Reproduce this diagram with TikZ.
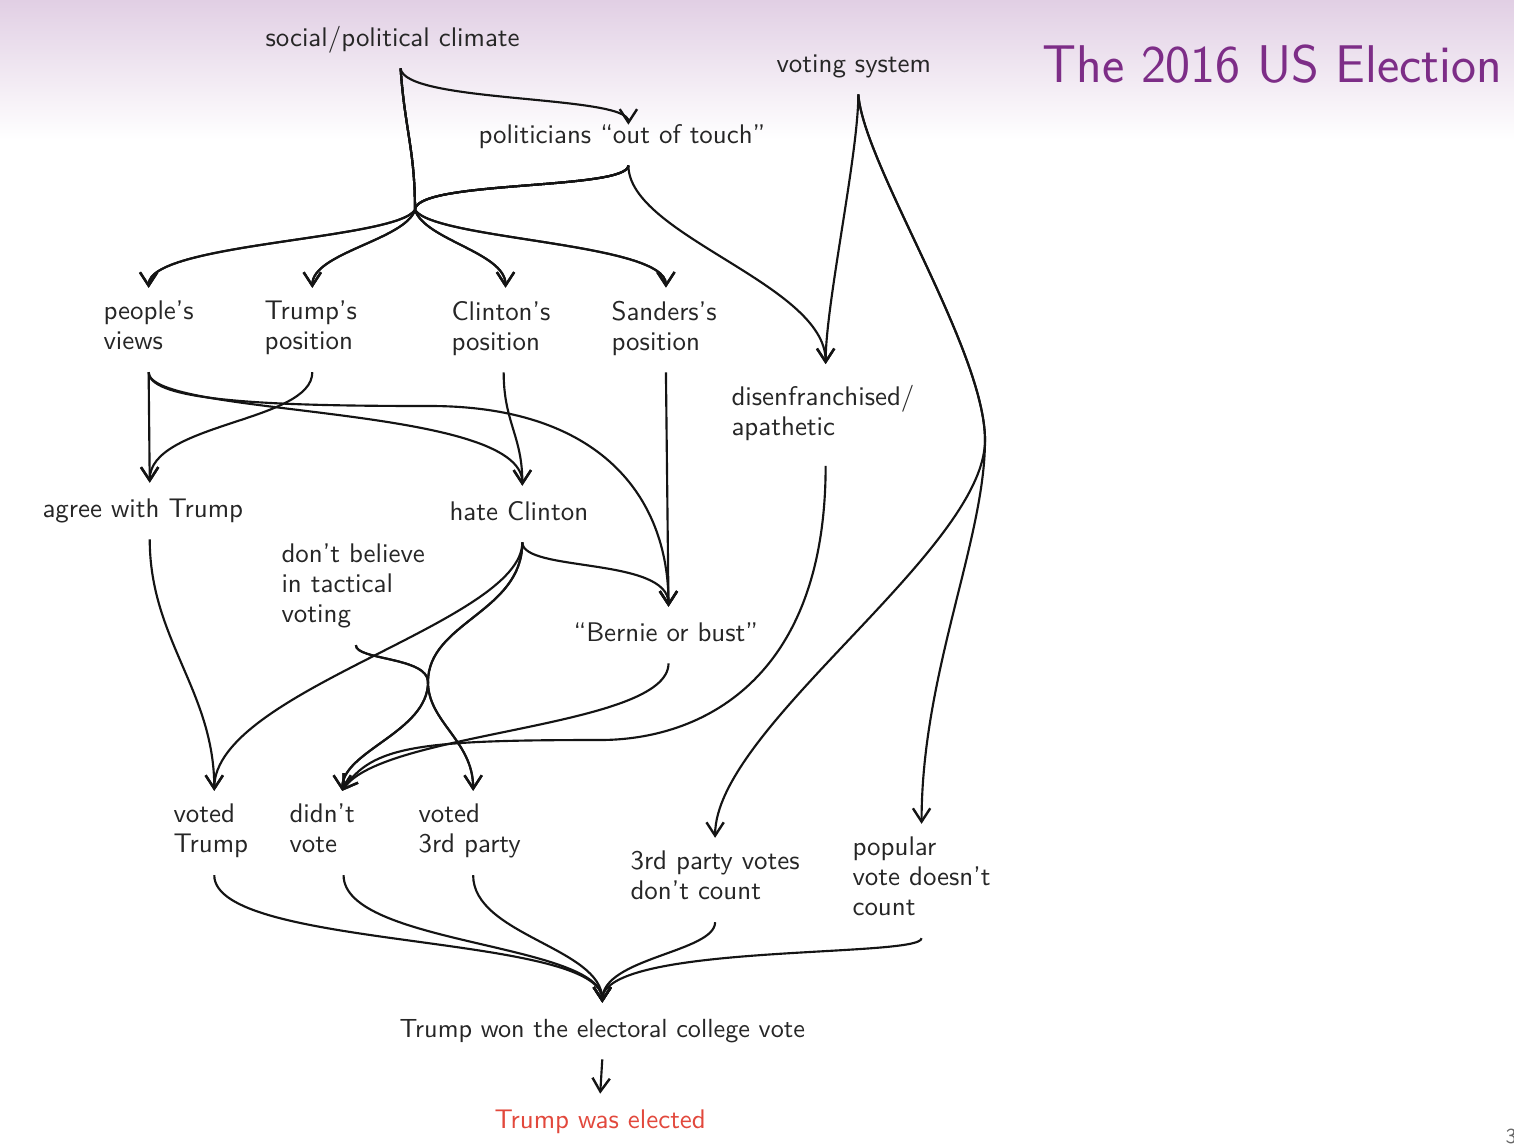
\documentclass[tikz,border=0pt]{standalone}
\usetikzlibrary{arrows.meta}
\definecolor{titlepurple}{RGB}{125,45,135}
\definecolor{bgtop}{RGB}{225,207,228}
\definecolor{alertred}{RGB}{226,72,60}
\definecolor{txt}{RGB}{38,38,38}
\begin{document}
\begin{tikzpicture}[x=0.375pt,y=-0.375pt,
  lbl/.style={font=\sffamily\fontsize{10.1}{11.25}\selectfont, text=txt, align=left, anchor=west,
    inner sep=0pt, outer ysep=5pt, execute at begin node=\strut, execute at end node=\strut},
  link/.style={draw=black!92, line width=0.8pt, -{Straight Barb[length=5pt,width=6.5pt,line width=0.9pt]}}]

\useasboundingbox (0,0) rectangle (1514,1144);
\fill[white] (0,0) rectangle (1514,1144);
\shade[top color=bgtop, bottom color=white] (0,0) rectangle (1514,140);

% title
\node[font=\sffamily\fontsize{19.9}{23}\selectfont, text=titlepurple, anchor=west, inner sep=0pt] (title) at (1042,64) {The 2016 US Election};
\node[font=\sffamily\fontsize{8}{9}\selectfont, text=black!60, anchor=north west, inner sep=0pt] (pg) at (1505,1129) {3};

% nodes
\node[lbl] (spc) at (265,40) {social/political climate};
\node[lbl] (vs)  at (776,66) {voting system};
\node[lbl] (pot) at (478,137) {politicians “out of touch”};
\node[lbl] (pv)  at (103,330) {people's\\views};
\node[lbl] (tp)  at (264,330) {Trump's\\position};
\node[lbl] (cp)  at (451,330) {Clinton's\\position};
\node[lbl] (sp)  at (611,330) {Sanders's\\position};
\node[lbl, outer ysep=8pt] (dis) at (731,415) {disenfranchised/\\apathetic};
\node[lbl] (awt) at (42,511) {agree with Trump};
\node[lbl] (hc)  at (449,514) {hate Clinton};
\node[lbl] (dbt) at (281,588) {don't believe\\in tactical\\voting};
\node[lbl] (bob) at (573,635) {“Bernie or bust”};
\node[lbl] (vt)  at (173,833) {voted\\Trump};
\node[lbl] (dv)  at (289,833) {didn't\\vote};
\node[lbl] (v3)  at (418,833) {voted\\3rd party};
\node[lbl] (tpv) at (630,880) {3rd party votes\\don't count};
\node[lbl] (pvd) at (852,881) {popular\\vote doesn't\\count};
\node[lbl, font=\sffamily\fontsize{9.83}{11.25}\selectfont] (twe) at (399,1031) {Trump won the electoral college vote};
\node[lbl, text=alertred] (tel) at (494,1122) {Trump was elected};

% junctions
\coordinate (j1) at (415,210);
\coordinate (j3) at (428,682);
\coordinate (j4) at (985,440);

% top part
\draw[link] ([xshift=3pt]spc.south) .. controls +(3,35) and +(0,-30) .. ([xshift=2.4pt,yshift=-6pt]pot.north);
\draw[link] ([xshift=3pt]spc.south) .. controls +(4,60) and +(0,-60) .. (j1) .. controls +(-20,30) and +(0,-45) .. (pv.north);
\draw[link] ([xshift=3pt]spc.south) .. controls +(4,60) and +(0,-60) .. (j1) .. controls +(-10,30) and +(0,-35) .. ([xshift=0.6pt]tp.north);
\draw[link] ([xshift=3pt]spc.south) .. controls +(4,60) and +(0,-60) .. (j1) .. controls +(10,30) and +(0,-35) .. ([xshift=1.7pt]cp.north);
\draw[link] ([xshift=3pt]spc.south) .. controls +(4,60) and +(0,-60) .. (j1) .. controls +(20,30) and +(0,-45) .. ([xshift=0.7pt]sp.north);
\draw[link] ([xshift=2.4pt]pot.south) .. controls +(0,25) and +(0,-30) .. (j1) .. controls +(-20,30) and +(0,-45) .. (pv.north);
\draw[link] ([xshift=2.4pt]pot.south) .. controls +(0,25) and +(0,-30) .. (j1) .. controls +(-10,30) and +(0,-35) .. ([xshift=0.6pt]tp.north);
\draw[link] ([xshift=2.4pt]pot.south) .. controls +(0,25) and +(0,-30) .. (j1) .. controls +(10,30) and +(0,-35) .. ([xshift=1.7pt]cp.north);
\draw[link] ([xshift=2.4pt]pot.south) .. controls +(0,25) and +(0,-30) .. (j1) .. controls +(20,30) and +(0,-45) .. ([xshift=0.7pt]sp.north);
\draw[link] ([xshift=2.4pt]pot.south) .. controls +(0,70) and +(0,-80) .. ([xshift=1pt]dis.north);
\draw[link] ([xshift=1.7pt]vs.south) .. controls +(0,60) and +(0,-60) .. ([xshift=1pt]dis.north);
\draw[link] ([xshift=1.7pt]vs.south) .. controls +(5,70) and +(0,-90) .. (j4) .. controls +(0,100) and +(0,-150) .. (pvd.north);
\draw[link] ([xshift=1.7pt]vs.south) .. controls +(5,70) and +(0,-90) .. (j4) .. controls +(0,110) and +(0,-110) .. (tpv.north);

% middle part
\draw[link] (pv.south) -- ([xshift=2.6pt]awt.north);
\draw[link] (pv.south) .. controls +(0,45) and +(0,-82) .. ([xshift=1.3pt]hc.north);
\draw[link] (pv.south) .. controls +(0,30) and +(-150,0) .. (430,406) .. controls +(170,0) and +(0,-110) .. ([xshift=1pt]bob.north);
\draw[link] ([xshift=0.6pt]tp.south) .. controls +(0,50) and +(0,-60) .. ([xshift=2.6pt]awt.north);
\draw[link] ([xshift=1pt]cp.south) .. controls +(0,50) and +(0,-50) .. ([xshift=1.3pt]hc.north);
\draw[link] ([xshift=0.7pt]sp.south) -- ([xshift=1pt]bob.north);

\draw[link] ([xshift=2.6pt]awt.south) .. controls +(0,100) and +(0,-100) .. ([xshift=1.3pt]vt.north);
\draw[link] ([xshift=1.3pt]hc.south) .. controls +(0,30) and +(0,-50) .. ([xshift=1pt]bob.north);
\draw[link] ([xshift=1.3pt]hc.south) .. controls +(0,80) and +(0,-100) .. ([xshift=1.3pt]vt.north);
\draw[link] ([xshift=1.3pt]hc.south) .. controls +(0,70) and +(0,-60) .. (j3) .. controls +(0,50) and +(0,-40) .. ([xshift=7.5pt]dv.north);
\draw[link] ([xshift=1.3pt]hc.south) .. controls +(0,70) and +(0,-60) .. (j3) .. controls +(0,40) and +(0,-50) .. ([xshift=1.3pt]v3.north);
\draw[link] ([xshift=1pt]dbt.south) .. controls +(0,15) and +(0,-25) .. (j3) .. controls +(0,50) and +(0,-40) .. ([xshift=7.5pt]dv.north);
\draw[link] ([xshift=1pt]dbt.south) .. controls +(0,15) and +(0,-25) .. (j3) .. controls +(0,40) and +(0,-50) .. ([xshift=1.3pt]v3.north);
\draw[link] ([xshift=1pt]bob.south) .. controls +(0,65) and +(40,-60) .. ([xshift=7.5pt]dv.north);
\draw[link] ([xshift=1pt]dis.south) .. controls +(0,215) and +(100,0) .. (600,740) .. controls +(-180,0) and +(30,-45) .. ([xshift=7.5pt]dv.north);

% bottom part
\draw[link] ([xshift=1.3pt]vt.south) .. controls +(0,75) and +(0,-70) .. (twe.north);
\draw[link] ([xshift=8pt]dv.south) .. controls +(0,70) and +(0,-60) .. (twe.north);
\draw[link] ([xshift=1.3pt]v3.south) .. controls +(0,60) and +(0,-55) .. (twe.north);
\draw[link] (tpv.south) .. controls +(0,30) and +(0,-45) .. (twe.north);
\draw[link] (pvd.south) .. controls +(0,20) and +(0,-60) .. (twe.north);
\draw[link] (twe.south) -- (tel.north);
\end{tikzpicture}
\end{document}
